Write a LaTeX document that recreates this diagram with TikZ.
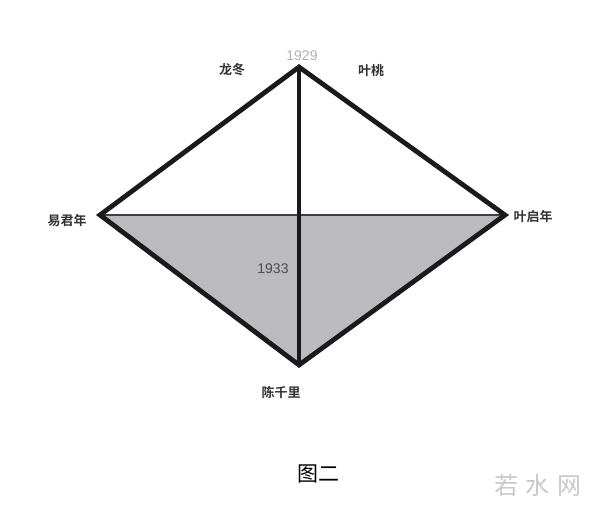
\documentclass[tikz,border=0pt]{standalone}
\usepackage{fontspec}
\setmainfont{Liberation Sans}
\newfontfamily\cjk{Noto Sans CJK SC}
\newfontfamily\cjkb{Noto Sans CJK SC Bold}
\definecolor{fillgray}{HTML}{BBBBBF}
\definecolor{edge}{HTML}{1A1A1A}
\definecolor{lightnum}{HTML}{B0B0B0}
\definecolor{wm}{HTML}{C8C8C8}
\begin{document}
\begin{tikzpicture}[x=1pt,y=-1pt,
  lbl/.style={font=\cjkb\fontsize{13}{13}\selectfont, text=black!80, inner sep=0pt},
  num/.style={inner sep=0pt, font=\fontsize{14}{14}\selectfont},
  thick edge/.style={draw=edge, line width=4.8pt, line join=miter},
  ]
\useasboundingbox (0,0) rectangle (600,505);
\coordinate (T) at (299,67);
\coordinate (L) at (100,215);
\coordinate (R) at (505,215);
\coordinate (B) at (299,365);
\fill[fillgray] (L) -- (R) -- (B) -- cycle;
\draw[black!75, line width=1.2pt] (L) -- (R);
\draw[thick edge] (T) -- (L) -- (B) -- (R) -- cycle;
\draw[thick edge, line cap=round] (T) -- (B);
\node[lbl] (n1) at (232,70) {龙冬};
\node[lbl] (n2) at (371,71) {叶桃};
\node[num, text=lightnum] (n3) at (302,56) {1929};
\node[lbl] (n4) at (67,221) {易君年};
\node[lbl] (n5) at (533,217) {叶启年};
\node[num, text=black!70] (n6) at (273,269) {1933};
\node[lbl] (n7) at (281,392) {陈千里};
\node[inner sep=0pt, font=\cjk\fontsize{21}{21}\selectfont] (n8) at (318,474) {图二};
\node[inner sep=0pt, text=wm, font=\cjk\fontsize{24}{24}\selectfont] (n9) at (538,485) {若\hspace{8pt}水\hspace{8pt}网};
\end{tikzpicture}
\end{document}
